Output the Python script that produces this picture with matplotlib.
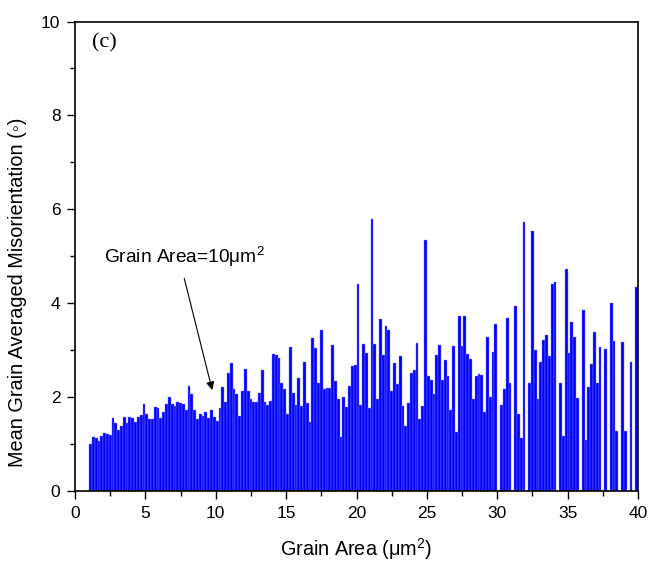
import numpy as np
import matplotlib
matplotlib.use("Agg")
import matplotlib.pyplot as plt
from matplotlib.ticker import MultipleLocator

# ---- data: mean grain averaged misorientation per 0.2 um^2 grain-area bin ----
bin_first_center = 1.1
bin_width = 0.2
misorientation = [
    1.0, 1.16, 1.12, 1.06, 1.18, 1.23, 1.22, 1.2, 1.55, 1.45,
    1.29, 1.39, 1.57, 1.44, 1.57, 1.55, 1.47, 1.57, 1.61, 1.85,
    1.64, 1.54, 1.53, 1.78, 1.76, 1.55, 1.68, 1.85, 2.0, 1.86,
    1.82, 1.9, 1.88, 1.86, 1.72, 2.23, 2.07, 1.72, 1.53, 1.63,
    1.59, 1.69, 1.56, 1.72, 1.58, 1.49, 1.76, 2.21, 1.9, 2.52,
    2.72, 2.17, 2.07, 1.59, 2.12, 2.6, 2.12, 1.95, 1.9, 1.9,
    2.09, 2.57, 1.89, 1.84, 1.92, 2.91, 2.9, 2.84, 2.3, 2.18,
    1.65, 3.07, 2.08, 1.84, 2.41, 1.82, 2.74, 1.88, 1.46, 3.26,
    3.05, 2.31, 3.42, 2.17, 2.19, 2.2, 3.11, 2.34, 1.95, 1.16,
    2.0, 1.78, 2.24, 2.66, 2.68, 4.4, 1.84, 3.13, 2.94, 1.76,
    5.79, 3.14, 1.95, 3.67, 2.89, 3.52, 3.42, 2.12, 2.72, 2.28,
    2.87, 1.82, 1.39, 1.88, 2.51, 2.58, 3.16, 1.54, 1.82, 5.35,
    2.44, 2.37, 2.07, 2.89, 3.11, 2.36, 2.78, 2.44, 1.72, 3.09,
    1.25, 3.73, 3.08, 3.73, 2.92, 2.82, 1.95, 2.44, 2.49, 2.48,
    1.68, 3.28, 2.0, 2.97, 3.55, 0.0, 1.84, 2.17, 3.69, 2.29,
    0.0, 3.95, 1.64, 1.12, 5.74, 0.0, 2.29, 5.53, 3.01, 1.95,
    2.74, 3.21, 3.33, 2.88, 4.4, 4.45, 0.0, 2.29, 1.17, 4.73,
    2.94, 3.6, 3.27, 1.98, 0.0, 3.86, 1.08, 2.22, 2.7, 3.38,
    2.29, 3.07, 0.0, 3.02, 0.0, 4.0, 3.2, 1.28, 0.0, 3.18,
    1.28, 0.0, 2.74, 0.0, 4.35, 3.68,
]
x_ticks = [0, 5, 10, 15, 20, 25, 30, 35, 40]
y_ticks = [0, 2, 4, 6, 8, 10]
annotation_text = "Grain Area=10\u03bcm$^2$"
annotation_target = (9.75, 2.15)
annotation_start = (7.76, 4.53)
panel_label = "(c)"

grain_area = bin_first_center + bin_width * np.arange(len(misorientation))

plt.rcParams['font.family'] = ['Liberation Sans', 'DejaVu Sans']
plt.rcParams['mathtext.fontset'] = 'custom'
plt.rcParams['mathtext.rm'] = 'Liberation Sans'
plt.rcParams['mathtext.it'] = 'Liberation Sans:italic'
plt.rcParams['mathtext.bf'] = 'Liberation Sans:bold'

fig = plt.figure(figsize=(6.49, 5.67), dpi=100)
ax = fig.add_axes([75/649, 1 - 491/567, (638 - 75)/649, (491 - 21.5)/567])

ax.bar(grain_area, misorientation, width=bin_width, color='#0000FF',
       edgecolor='#8080FF', linewidth=0.3, align='center')

ax.set_xlim(0, 40)
ax.set_ylim(0, 10)
ax.set_xticks(x_ticks)
ax.set_yticks(y_ticks)
ax.xaxis.set_minor_locator(MultipleLocator(2.5))
ax.yaxis.set_minor_locator(MultipleLocator(1))
ax.tick_params(which='both', direction='out', top=False, right=False,
               labelsize=12.5, width=1)
ax.tick_params(which='major', length=5.5, pad=5)
ax.tick_params(which='minor', length=3.5)
for s in ax.spines.values():
    s.set_linewidth(1.2)

ax.set_xlabel("Grain Area (\u03bcm$^2$)", fontsize=14.3, labelpad=11)
ax.set_ylabel("Mean Grain Averaged Misorientation (\u25e6)", fontsize=14.3)
ax.yaxis.set_label_coords(-0.085, 0.424)

ax.annotate('', xy=annotation_target, xytext=annotation_start,
            arrowprops=dict(arrowstyle='-|>', color='black', lw=0.8,
                            mutation_scale=12, shrinkA=0, shrinkB=0))
ax.text(7.75, 4.86, annotation_text, ha='center', va='baseline', fontsize=13.8)

ax.text(2.1, 9.55, panel_label, ha='center', va='center', fontsize=16,
        family=['Liberation Serif', 'DejaVu Serif'])

fig.savefig('out.png', dpi=100)
